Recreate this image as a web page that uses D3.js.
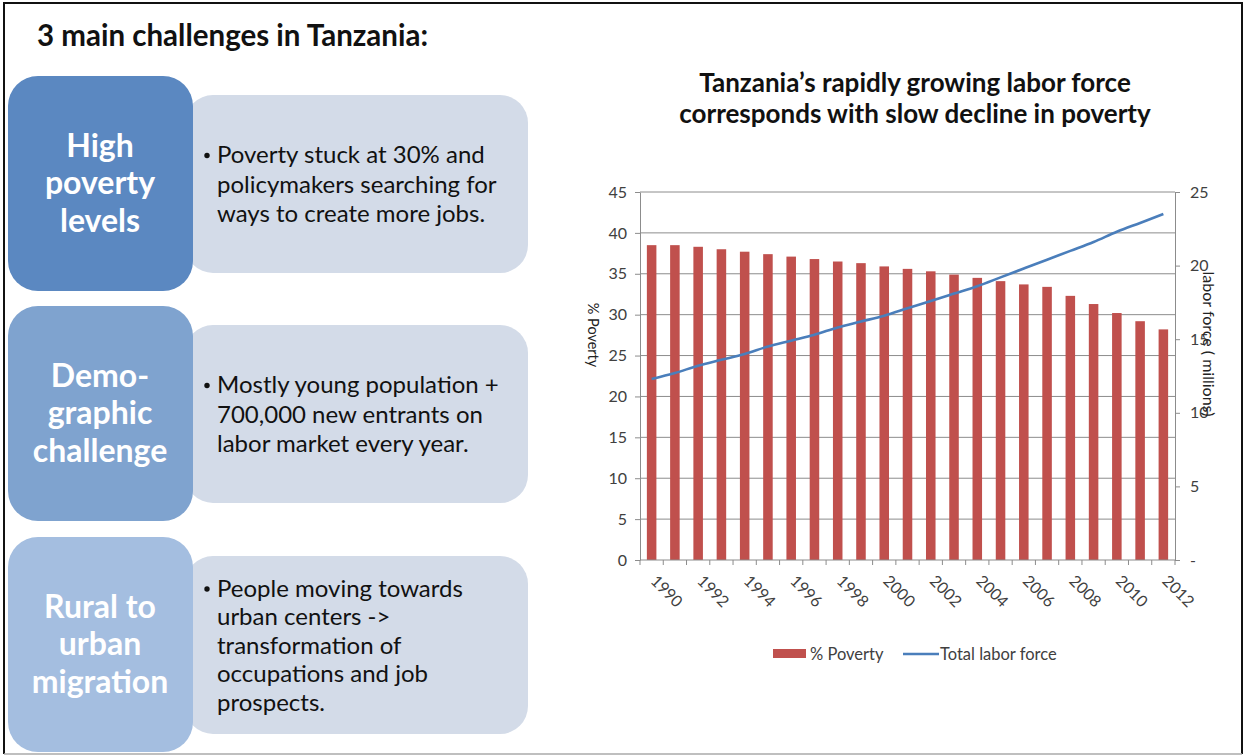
<!DOCTYPE html>
<html>
<head>
<meta charset="utf-8">
<script src="https://cdn.jsdelivr.net/npm/d3@7"></script>
<style>
  html, body { margin: 0; padding: 0; background: #fff; }
  svg { display: block; font-family: Lato, "Open Sans", sans-serif; }
</style>
</head>
<body>
<svg id="slide" width="1246" height="755"></svg>
<script>
// ---- data ----
const years = [1990,1991,1992,1993,1994,1995,1996,1997,1998,1999,2000,2001,2002,2003,2004,2005,2006,2007,2008,2009,2010,2011,2012];
const povertyPct = [38.5,38.5,38.3,38.0,37.7,37.4,37.1,36.8,36.5,36.3,35.9,35.6,35.3,34.9,34.5,34.1,33.7,33.4,32.3,31.3,30.2,29.2,28.2];
const laborForceMillions = [12.3,12.7,13.2,13.6,14.0,14.5,14.9,15.3,15.8,16.2,16.6,17.1,17.6,18.1,18.6,19.2,19.8,20.4,21.0,21.6,22.3,22.9,23.5];
const leftTicks = [0,5,10,15,20,25,30,35,40,45];
const rightTicks = [0,5,10,15,20,25];
const yearLabels = [1990,1992,1994,1996,1998,2000,2002,2004,2006,2008,2010,2012];

const challengeTitles = [["High","poverty","levels"],["Demo-","graphic","challenge"],["Rural to","urban","migration"]];
const challengeText = [
  ["Poverty stuck at 30% and","policymakers searching for","ways to create more jobs."],
  ["Mostly young population +","700,000 new entrants on","labor market every year."],
  ["People moving towards","urban centers ->","transformation of","occupations and job","prospects."]
];

const svg = d3.select("#slide");

// slide frame
svg.append("rect").attr("x",0).attr("y",0).attr("width",1246).attr("height",755).attr("fill","#fff");
svg.append("path").attr("d","M4,754 L4,3 L1242,3 L1242,754").attr("fill","none").attr("stroke","#111").attr("stroke-width",2);
svg.append("line").attr("x1",4).attr("x2",1242).attr("y1",754).attr("y2",754).attr("stroke","#aaa").attr("stroke-width",1.5);

// heading
svg.append("text").attr("x",37).attr("y",46).attr("font-size",29.5).attr("font-weight",700).attr("fill","#111")
  .text("3 main challenges in Tanzania:");

// ---- challenge boxes ----
const boxTops = [76, 306, 537];
const darkColors = ["#5b88c1","#7fa3cf","#a4bee0"];
const lightColor = "#d3dbe8";
boxTops.forEach((top, i) => {
  const g = svg.append("g");
  g.append("rect").attr("x",185).attr("y",top+19).attr("width",343).attr("height",178)
    .attr("rx",28).attr("fill",lightColor);
  g.append("rect").attr("x",8).attr("y",top).attr("width",185).attr("height",215)
    .attr("rx",30).attr("fill",darkColors[i]);
  const t = challengeTitles[i];
  const cy = top + 107;
  t.forEach((line, j) => {
    g.append("text").attr("x",100).attr("y",cy + (j - (t.length-1)/2)*37.5 + 11)
      .attr("text-anchor","middle").attr("font-size",32).attr("font-weight",700).attr("fill","#fff")
      .text(line);
  });
  const lines = challengeText[i];
  const step = lines.length > 3 ? 28.5 : 29.5;
  const ly0 = top + 19 + 89 - (lines.length-1)/2*step;
  lines.forEach((line, j) => {
    g.append("text").attr("x",217).attr("y",ly0 + j*step + 8.5)
      .attr("font-size",24).attr("fill","#111").text(line);
  });
  g.append("circle").attr("cx",207).attr("cy",ly0 + 1).attr("r",2.7).attr("fill","#111");
});

// ---- chart ----
const chartTitle = ["Tanzania\u2019s rapidly growing labor force","corresponds with slow decline in poverty"];
chartTitle.forEach((t,i) => {
  svg.append("text").attr("x",915).attr("y",92 + i*31).attr("text-anchor","middle")
    .attr("font-size",26).attr("font-weight",700).attr("fill","#111").text(t);
});

const plot = {left: 640, right: 1175, top: 192, bottom: 560};
const x = d3.scaleBand().domain(years).range([plot.left, plot.right]).padding(0);
const yL = d3.scaleLinear().domain([0,45]).range([plot.bottom, plot.top]);
const yR = d3.scaleLinear().domain([0,25]).range([plot.bottom, plot.top]);
const gridColor = "#8c8c8c";
const labelColor = "#404040";

// gridlines
svg.append("g").selectAll("line").data(leftTicks.filter(d => d > 0)).join("line")
  .attr("x1",plot.left).attr("x2",plot.right).attr("y1",d => yL(d)).attr("y2",d => yL(d))
  .attr("stroke",gridColor).attr("stroke-width",1);

// bars
const barW = x.bandwidth()*0.41;
svg.append("g").selectAll("rect").data(years).join("rect")
  .attr("x",(d) => x(d) + x.bandwidth()/2 - barW/2)
  .attr("y",(d,i) => yL(povertyPct[i]))
  .attr("width",barW)
  .attr("height",(d,i) => yL(0) - yL(povertyPct[i]))
  .attr("fill","#c0504d");

// left axis
const axL = svg.append("g").attr("transform",`translate(${plot.left},0)`)
  .call(d3.axisLeft(yL).tickValues(leftTicks).tickSize(5).tickSizeOuter(0).tickPadding(8));
axL.select(".domain").attr("stroke",gridColor);
axL.selectAll(".tick line").attr("stroke",gridColor);
axL.selectAll(".tick text").attr("font-size",16).attr("fill",labelColor).attr("font-family","Lato, sans-serif");

// right axis
const axR = svg.append("g").attr("transform",`translate(${plot.right},0)`)
  .call(d3.axisRight(yR).tickValues(rightTicks).tickSize(5).tickSizeOuter(0).tickPadding(10)
    .tickFormat(d => d === 0 ? "-" : d));
axR.select(".domain").attr("stroke",gridColor);
axR.selectAll(".tick line").attr("stroke",gridColor);
axR.selectAll(".tick text").attr("font-size",16).attr("fill",labelColor).attr("font-family","Lato, sans-serif");

// bottom axis: ticks at band edges
const axB = svg.append("g");
axB.append("line").attr("x1",plot.left).attr("x2",plot.right).attr("y1",plot.bottom).attr("y2",plot.bottom)
  .attr("stroke",gridColor);
axB.selectAll("line.tk").data(years.concat(["end"])).join("line").attr("class","tk")
  .attr("x1",d => d === "end" ? plot.right : x(d)).attr("x2",d => d === "end" ? plot.right : x(d))
  .attr("y1",plot.bottom).attr("y2",plot.bottom + 5).attr("stroke",gridColor);
axB.selectAll("text").data(yearLabels).join("text")
  .attr("transform",d => `translate(${x(d) + x.bandwidth()/2 - 2},${plot.bottom + 22}) rotate(45)`)
  .attr("font-size",16).attr("fill",labelColor).text(d => d);

// labor force line
const line = d3.line().x(d => x(d) + x.bandwidth()/2).y((d,i) => yR(laborForceMillions[i])).curve(d3.curveMonotoneX);
svg.append("path").datum(years).attr("d",line).attr("fill","none").attr("stroke","#4a7ebb").attr("stroke-width",2.6);

// axis titles
svg.append("text").attr("transform","translate(588,335) rotate(90)").attr("text-anchor","middle")
  .attr("font-size",14.5).attr("fill","#222").text("% Poverty");
svg.append("text").attr("transform","translate(1203,344) rotate(90)").attr("text-anchor","middle")
  .attr("font-size",16).attr("fill","#222").text("labor force ( millions)");

// legend
const lg = svg.append("g");
lg.append("rect").attr("x",773).attr("y",649).attr("width",33).attr("height",9).attr("fill","#c0504d");
lg.append("text").attr("x",810).attr("y",659.5).attr("font-size",16.5).attr("fill",labelColor).text("% Poverty");
lg.append("line").attr("x1",903).attr("x2",939).attr("y1",654).attr("y2",654).attr("stroke","#4a7ebb").attr("stroke-width",2.6);
lg.append("text").attr("x",940).attr("y",659.5).attr("font-size",16.5).attr("fill",labelColor).text("Total labor force");
</script>
</body>
</html>
